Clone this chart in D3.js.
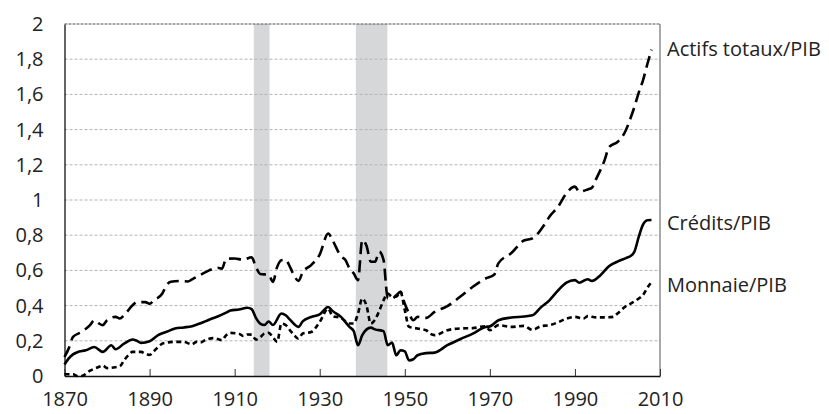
<!DOCTYPE html>
<meta charset="utf-8">
<style>
  body { margin: 0; background: #fff; }
  text { font-family: "Open Sans", Lato, sans-serif; fill: #222; }
  .grid line { stroke: #b3b3b3; stroke-dasharray: 3,2; }
</style>
<body>
<svg width="829" height="414"></svg>
<script src="https://cdn.jsdelivr.net/npm/d3@7"></script>
<script>

// credits / GDP (solid line)
var creditYears = [1870,1871,1872,1873,1875,1877,1879,1881,1882,1884,1886,1887,1888,1890,1892,1894,1896,1898,1900,1902,1904,1906,1908,1909,1911,1913,1914,1915,1916,1917,1918,1919,1921,1922,1923,1925,1926,1928,1930,1932,1933,1935,1937,1938,1939,1940,1942,1943,1945,1946,1947,1948,1949,1950,1951,1952,1953,1955,1957,1960,1963,1966,1969,1970,1972,1975,1978,1980,1982,1984,1986,1988,1990,1991,1993,1994,1996,1998,2000,2002,2003,2004,2005,2006,2007,2008];
var creditValues = [0.065,0.10,0.123,0.135,0.146,0.165,0.137,0.175,0.152,0.184,0.207,0.20,0.188,0.197,0.232,0.251,0.27,0.276,0.283,0.30,0.32,0.338,0.36,0.372,0.378,0.388,0.38,0.33,0.298,0.29,0.31,0.29,0.355,0.345,0.32,0.279,0.31,0.335,0.35,0.392,0.37,0.336,0.279,0.255,0.175,0.232,0.275,0.265,0.255,0.175,0.19,0.118,0.146,0.14,0.089,0.095,0.118,0.13,0.133,0.175,0.209,0.241,0.279,0.282,0.317,0.332,0.338,0.345,0.39,0.43,0.485,0.53,0.545,0.53,0.55,0.54,0.573,0.624,0.65,0.67,0.68,0.707,0.79,0.86,0.885,0.886];

// total assets / GDP (long dashes)
var assetYears = [1870,1871,1872,1874,1876,1877,1878,1879,1880,1882,1883,1884,1886,1887,1889,1890,1891,1893,1894,1895,1897,1899,1900,1902,1904,1906,1907,1908,1910,1912,1914,1915,1916,1918,1919,1920,1921,1922,1923,1924,1925,1926,1928,1930,1932,1933,1935,1936,1937,1938,1939,1940,1941,1942,1943,1944,1945,1946,1947,1948,1949,1950,1951,1952,1953,1955,1957,1960,1963,1966,1969,1971,1972,1975,1978,1980,1983,1984,1986,1988,1990,1991,1993,1994,1995,1997,1998,2000,2001,2002,2003,2004,2005,2006,2007,2008];
var assetValues = [0.108,0.157,0.222,0.25,0.289,0.317,0.30,0.289,0.317,0.336,0.327,0.345,0.402,0.42,0.42,0.41,0.43,0.469,0.516,0.535,0.54,0.537,0.549,0.575,0.60,0.615,0.61,0.665,0.668,0.66,0.675,0.62,0.58,0.575,0.535,0.62,0.658,0.66,0.62,0.57,0.54,0.59,0.63,0.69,0.81,0.772,0.68,0.66,0.611,0.583,0.545,0.772,0.74,0.649,0.649,0.706,0.66,0.44,0.44,0.459,0.478,0.41,0.355,0.317,0.336,0.33,0.364,0.397,0.45,0.507,0.554,0.575,0.64,0.697,0.77,0.782,0.867,0.905,0.96,1.038,1.076,1.047,1.06,1.07,1.12,1.228,1.30,1.33,1.355,1.398,1.46,1.53,1.61,1.68,1.77,1.854];

// money / GDP (short dashes)
var moneyYears = [1870,1872,1873,1874,1876,1878,1879,1880,1882,1883,1884,1885,1886,1888,1889,1890,1891,1892,1893,1894,1896,1898,1900,1901,1902,1903,1905,1906,1907,1908,1909,1911,1912,1913,1914,1915,1916,1917,1918,1919,1920,1921,1922,1923,1924,1925,1926,1928,1930,1932,1933,1935,1937,1938,1939,1940,1941,1942,1943,1944,1945,1946,1947,1948,1949,1950,1951,1953,1955,1956,1957,1960,1963,1966,1969,1970,1972,1975,1978,1980,1982,1984,1986,1988,1990,1992,1993,1995,1997,1999,2000,2002,2003,2005,2006,2007,2008];
var moneyValues = [0.01,0.01,0.0,0.0,0.03,0.051,0.06,0.045,0.05,0.055,0.089,0.118,0.137,0.137,0.127,0.12,0.14,0.165,0.184,0.19,0.194,0.194,0.18,0.194,0.19,0.203,0.215,0.21,0.203,0.232,0.245,0.24,0.228,0.236,0.235,0.207,0.22,0.241,0.245,0.22,0.194,0.298,0.29,0.26,0.232,0.212,0.241,0.25,0.307,0.383,0.34,0.33,0.298,0.298,0.355,0.44,0.40,0.298,0.32,0.37,0.43,0.469,0.45,0.45,0.478,0.374,0.279,0.27,0.26,0.24,0.232,0.26,0.27,0.272,0.283,0.26,0.289,0.279,0.285,0.262,0.283,0.289,0.305,0.326,0.336,0.326,0.34,0.333,0.333,0.336,0.355,0.397,0.41,0.44,0.46,0.50,0.535];

// war periods (shaded)
var warStart = [1914.5, 1938.5];
var warEnd = [1918.2, 1945.9];

var xTicks = [1870, 1890, 1910, 1930, 1950, 1970, 1990, 2010];
var yTicks = [0, 0.2, 0.4, 0.6, 0.8, 1, 1.2, 1.4, 1.6, 1.8, 2];

var seriesLabels = ["Actifs totaux/PIB", "Crédits/PIB", "Monnaie/PIB"];

var svg = d3.select("svg"),
    margin = {top: 24, right: 169, bottom: 38, left: 64.5},
    width = +svg.attr("width") - margin.left - margin.right,
    height = +svg.attr("height") - margin.top - margin.bottom;

var x = d3.scaleLinear().domain([1870, 2010]).range([0, width]);
var y = d3.scaleLinear().domain([0, 2]).range([height, 0]);

var g = svg.append("g").attr("transform", "translate(" + margin.left + "," + margin.top + ")");

// shaded bands
g.selectAll(".war")
    .data(warStart)
  .enter().append("rect")
    .attr("x", function(d) { return x(d); })
    .attr("width", function(d, i) { return x(warEnd[i]) - x(d); })
    .attr("y", 0)
    .attr("height", height)
    .attr("fill", "#d6d7d9");

// horizontal grid
g.append("g")
    .attr("class", "grid")
  .selectAll("line")
    .data(yTicks.slice(1, -1))
  .enter().append("line")
    .attr("x1", 0).attr("x2", width)
    .attr("y1", function(d) { return y(d); })
    .attr("y2", function(d) { return y(d); });

// frame
g.append("line").attr("x1", 0).attr("x2", width).attr("y1", 0).attr("y2", 0)
    .attr("stroke", "#555").attr("stroke-dasharray", "3,1");
g.append("line").attr("x1", width).attr("x2", width).attr("y1", 0).attr("y2", height)
    .attr("stroke", "#555");

// y axis
var yAxis = g.append("g")
    .call(d3.axisLeft(y).tickValues(yTicks).tickSize(0).tickPadding(21)
        .tickFormat(function(d) { return String(d).replace(".", ","); }));
yAxis.select(".domain").attr("stroke", "#111").attr("stroke-width", 1.3);
yAxis.selectAll("text").style("font-size", "20px").attr("fill", "#222");

// x axis, ticks pointing up into the plot
var xAxis = g.append("g")
    .attr("transform", "translate(0," + height + ")")
    .call(d3.axisBottom(x).tickValues(xTicks).tickSizeInner(-7).tickSizeOuter(0).tickPadding(16)
        .tickFormat(d3.format("d")));
xAxis.select(".domain").attr("stroke", "#111").attr("stroke-width", 1.6);
xAxis.selectAll("line").attr("stroke", "#333");
xAxis.selectAll("text").style("font-size", "20px").attr("fill", "#222");

var line = d3.line()
    .curve(d3.curveMonotoneX)
    .x(function(d) { return x(d[0]); })
    .y(function(d) { return y(d[1]); });

function pairs(years, values) {
  return years.map(function(yr, i) { return [yr, values[i]]; });
}

var series = [
  {data: pairs(assetYears, assetValues), dash: "12,6"},
  {data: pairs(creditYears, creditValues), dash: null},
  {data: pairs(moneyYears, moneyValues), dash: "5,3.5"}
];

g.selectAll(".series")
    .data(series)
  .enter().append("path")
    .attr("fill", "none")
    .attr("stroke", "#000")
    .attr("stroke-width", 2.6)
    .attr("stroke-dasharray", function(d) { return d.dash; })
    .attr("d", function(d) { return line(d.data); });

// labels to the right
var labelY = [1.86, 0.87, 0.515];
svg.selectAll(".label")
    .data(seriesLabels)
  .enter().append("text")
    .attr("x", margin.left + width + 7)
    .attr("y", function(d, i) { return margin.top + y(labelY[i]); })
    .attr("dy", "0.35em")
    .style("font-size", "20px")
    .text(function(d) { return d; });

</script>
</body>
